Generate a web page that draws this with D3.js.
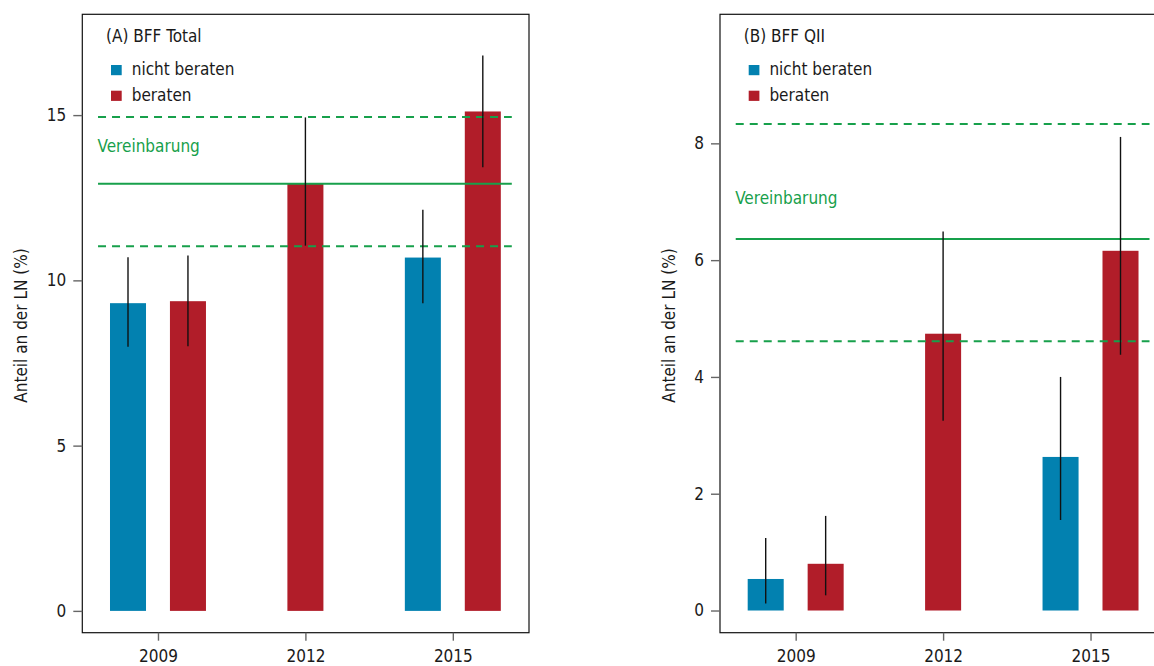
<!DOCTYPE html>
<html>
<head>
<meta charset="utf-8">
<script src="https://cdn.jsdelivr.net/npm/d3@7"></script>
<style>
  html, body { margin: 0; padding: 0; background: #fff; overflow: hidden; }
  svg { display: block; }
  text { font-family: 'DejaVu Sans Condensed', 'DejaVu Sans', sans-serif; font-stretch: condensed; fill: #1a1a1a; }
</style>
</head>
<body>
<svg id="chart" width="1154" height="666"></svg>
<script>
// ---- Data ----
const xTickYears = [2009, 2012, 2015];
const xTickLabels = ["2009", "2012", "2015"];
const legendLabels = ["nicht beraten", "beraten"];
const barYears = [2009, 2009, 2012, 2015, 2015];
const barGroups = ["nicht beraten", "beraten", "beraten", "nicht beraten", "beraten"];
const barSlots = [-1, 1, 0, -1, 1];

const titleA = "(A) BFF Total";
const valuesA = [9.31, 9.37, 12.93, 10.69, 15.11];
const lowA = [7.99, 8.01, 11.05, 9.31, 13.42];
const highA = [10.70, 10.75, 14.93, 12.14, 16.80];
const agreementA = [11.03, 12.92, 14.94];   // lower, target, upper
const yTicksA = [0, 5, 10, 15];

const titleB = "(B) BFF QII";
const valuesB = [0.54, 0.80, 4.74, 2.63, 6.16];
const lowB = [0.12, 0.26, 3.25, 1.55, 4.38];
const highB = [1.24, 1.62, 6.49, 4.00, 8.11];
const agreementB = [4.61, 6.36, 8.33];
const yTicksB = [0, 2, 4, 6, 8];

const yLabel = "Anteil an der LN (%)";
const agreementLabel = "Vereinbarung";

// ---- Styles / layout ----
const colors = { "nicht beraten": "#0281b0", "beraten": "#b11d29" };
const green = "#17a04b";
const plotTop = 14.3, plotBottom = 632.7;
const xDomain = [2007.46, 2016.55];
const slotOffset = 0.61, barWidthYears = 0.733;
const lineFrom = 2007.78, lineTo = 2016.2;

const panels = [
  { title: titleA, values: valuesA, low: lowA, high: highA, agree: agreementA, ticks: yTicksA,
    left: 82.3, right: 529, yDomain: [-0.66, 18.05], ylabOff: 61.5, agreeLabOff: 32 },
  { title: titleB, values: valuesB, low: lowB, high: highB, agree: agreementB, ticks: yTicksB,
    left: 720, right: 1166.7, yDomain: [-0.38, 10.21], ylabOff: 51, agreeLabOff: 35 }
];

const svg = d3.select("#chart");
const fs = 17;

panels.forEach(p => {
  const g = svg.append("g");
  const x = d3.scaleLinear().domain(xDomain).range([p.left, p.right]);
  const y = d3.scaleLinear().domain(p.yDomain).range([plotBottom, plotTop]);
  const bw = x(xDomain[0] + barWidthYears) - x(xDomain[0]);

  // bars
  const bars = barYears.map((yr, i) => ({ yr, grp: barGroups[i], slot: barSlots[i], v: p.values[i], lo: p.low[i], hi: p.high[i] }));
  g.selectAll("rect.bar").data(bars).enter().append("rect")
    .attr("class", "bar")
    .attr("x", d => x(d.yr + d.slot * slotOffset) - bw / 2)
    .attr("width", bw)
    .attr("y", d => y(d.v))
    .attr("height", d => y(0) - y(d.v))
    .attr("fill", d => colors[d.grp]);

  // agreement lines
  const lineStyles = ["dash", "solid", "dash"];
  g.selectAll("line.agree").data(p.agree).enter().append("line")
    .attr("class", "agree")
    .attr("x1", x(lineFrom)).attr("x2", x(lineTo))
    .attr("y1", d => y(d)).attr("y2", d => y(d))
    .attr("stroke", green).attr("stroke-width", 2)
    .attr("stroke-dasharray", (d, i) => lineStyles[i] === "dash" ? "8,6" : null);

  // error bars
  g.selectAll("line.err").data(bars).enter().append("line")
    .attr("class", "err")
    .attr("x1", d => x(d.yr + d.slot * slotOffset)).attr("x2", d => x(d.yr + d.slot * slotOffset))
    .attr("y1", d => y(d.lo)).attr("y2", d => y(d.hi))
    .attr("stroke", "#111").attr("stroke-width", 1.4);

  // agreement label
  g.append("text").attr("x", x(lineFrom) - 0.5).attr("y", y(p.agree[1]) - p.agreeLabOff)
    .attr("font-size", fs).style("fill", green).text(agreementLabel);

  // frame
  g.append("rect").attr("x", p.left).attr("y", plotTop)
    .attr("width", p.right - p.left).attr("height", plotBottom - plotTop)
    .attr("fill", "none").attr("stroke", "#111").attr("stroke-width", 1.2);

  // y axis
  const yAxis = d3.axisLeft(y).tickValues(p.ticks).tickSize(9).tickPadding(7).tickFormat(d3.format("d"));
  const ya = g.append("g").attr("transform", `translate(${p.left},0)`).call(yAxis);
  ya.select(".domain").remove();
  ya.selectAll(".tick line").attr("stroke", "#666").attr("stroke-width", 1.4);
  ya.selectAll(".tick text").attr("font-size", fs).attr("font-family", null).style("fill", "#1a1a1a");

  // x axis
  const xAxis = d3.axisBottom(x).tickValues(xTickYears).tickSize(8).tickPadding(9)
    .tickFormat((d, i) => xTickLabels[i]);
  const xa = g.append("g").attr("transform", `translate(0,${plotBottom})`).call(xAxis);
  xa.select(".domain").remove();
  xa.selectAll(".tick line").attr("stroke", "#666").attr("stroke-width", 1.4);
  xa.selectAll(".tick text").attr("font-size", fs).attr("font-family", null).style("fill", "#1a1a1a");

  // y label
  g.append("text")
    .attr("transform", `translate(${p.left - p.ylabOff + 6},${(plotTop + plotBottom) / 2 + 2}) rotate(-90)`)
    .attr("text-anchor", "middle").attr("font-size", fs).text(yLabel);

  // title
  g.append("text").attr("x", p.left + 23.7).attr("y", 42.3).attr("font-size", fs).text(p.title);

  // legend
  legendLabels.forEach((lab, i) => {
    g.append("rect").attr("x", p.left + 28.7).attr("y", 65 + i * 25.7)
      .attr("width", 10.7).attr("height", 10.2).attr("fill", colors[lab]);
    g.append("text").attr("x", p.left + 49.4).attr("y", 75 + i * 25.7)
      .attr("font-size", fs).text(lab);
  });
});
</script>
</body>
</html>
